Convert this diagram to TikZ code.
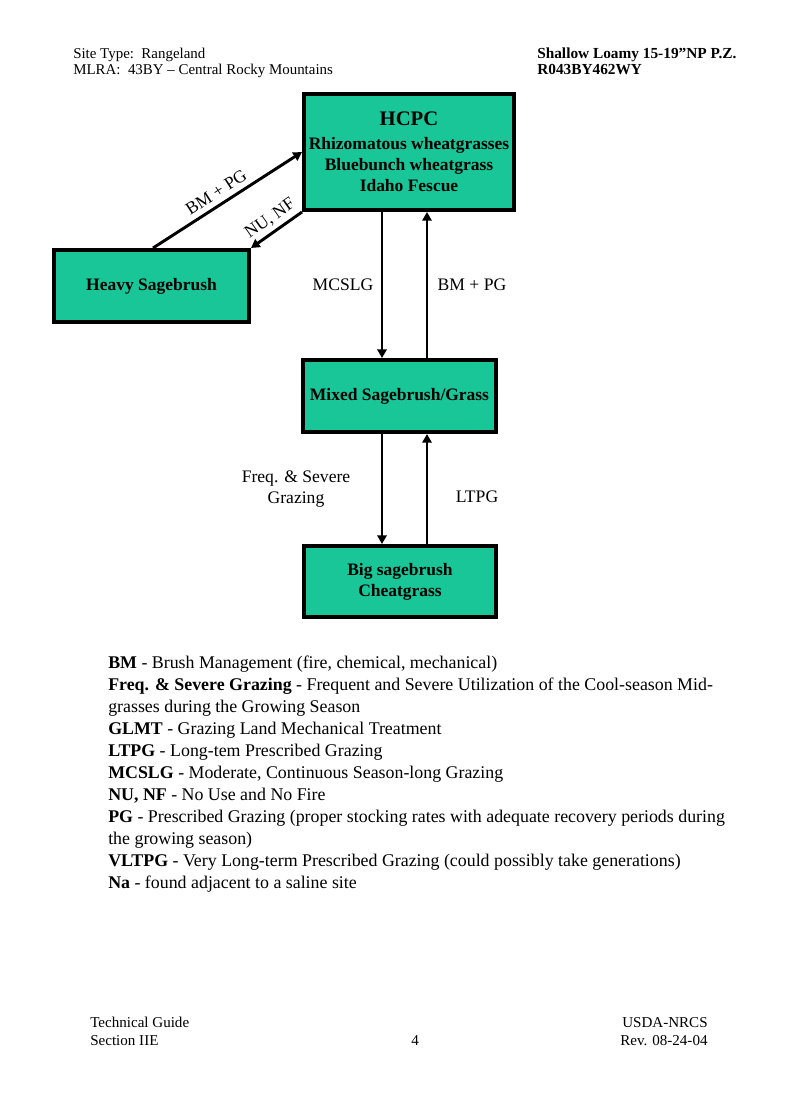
\documentclass[tikz,border=0pt]{standalone}
\usepackage{fontspec}
\setmainfont{Liberation Serif}
\usetikzlibrary{arrows.meta,calc}
\definecolor{boxgreen}{RGB}{24,198,152}
\def\u{0.75pt}
\tikzset{
  statebox/.style={draw=black, line width=3pt, fill=boxgreen, align=center,
    font=\bfseries\fontsize{13.1}{15.75}\selectfont, inner sep=0pt},
  arr/.style={line width=2.2pt, -{Triangle[length=6.5pt,width=7pt]}},
  lbl/.style={font=\fontsize{13.2}{15.75}\selectfont, align=center, inner sep=1pt},
  hdr/.style={font=\fontsize{11.2}{13}\selectfont, anchor=base west, inner sep=0pt},
  hdrb/.style={font=\bfseries\fontsize{11.5}{13}\selectfont, anchor=base west, inner sep=0pt},
  ftr/.style={font=\fontsize{11.3}{13}\selectfont, anchor=base west, inner sep=0pt},
  leg/.style={font=\fontsize{13.4}{15}\selectfont, anchor=base west, inner sep=0pt}
}
\begin{document}
\begin{tikzpicture}[x=0.75pt, y=-0.75pt]
\useasboundingbox[fill=white] (0,0) rectangle (800,1108);

% header
\node[hdr] (h1) at (73,58) {Site Type:\ \ Rangeland};
\node[hdr] (h2) at (73,74) {MLRA:\ \ 43BY -- Central Rocky Mountains};
\node[hdrb] (h3) at (537,58) {Shallow Loamy 15-19”NP P.Z.};
\node[hdrb] (h4) at (537,74) {R043BY462WY};

% boxes
\node[statebox, minimum width={210*\u}, minimum height={116*\u}] (hcpc) at (409,152)
  {{\fontsize{15.5}{17}\selectfont HCPC}\\[2pt] Rhizomatous wheatgrasses\\ Bluebunch wheatgrass\\ Idaho Fescue};
\node[statebox, minimum width={195*\u}, minimum height={72*\u}] (heavy) at (151.5,286) {Heavy Sagebrush};
\node[statebox, minimum width={193*\u}, minimum height={72*\u}] (mixed) at (399.5,396) {Mixed Sagebrush/Grass};
\node[statebox, minimum width={192*\u}, minimum height={71*\u}] (big) at (400,581.5) {Big sagebrush\\ Cheatgrass};

% connectors
\draw[arr] ([xshift=1.5*\u]heavy.north) -- node[lbl, sloped, above=3pt, pos=0.47] {BM + PG} (hcpc.west);
\draw[arr] (hcpc.south west) -- node[lbl, sloped, above=2pt, pos=0.48] {NU, NF} (heavy.north east);
\draw[arr] ([xshift=-17.5*\u]hcpc.south -| mixed.north) -- ([xshift=-17.5*\u]mixed.north);
\draw[arr] ([xshift=27.5*\u]mixed.north) -- ([xshift=27.5*\u]hcpc.south -| mixed.north);
\draw[arr] ([xshift=-17.5*\u]mixed.south) -- ([xshift=-17.5*\u]big.north -| mixed.south);
\draw[arr] ([xshift=27.5*\u]big.north -| mixed.south) -- ([xshift=27.5*\u]mixed.south);

\node[lbl] (l1) at (343,285) {MCSLG};
\node[lbl] (l2) at (472,285) {BM + PG};
\node[lbl] (l3) at (296,489) {Freq. \& Severe\\ Grazing};
\node[lbl] (l4) at (477,497) {LTPG};

% legend
\node[leg] (g1) at (108,668) {\textbf{BM} - Brush Management (fire, chemical, mechanical)};
\node[leg] (g2) at (108,690) {\textbf{Freq. \& Severe Grazing} - Frequent and Severe Utilization of the Cool-season Mid-};
\node[leg] (g3) at (108,712) {grasses during the Growing Season};
\node[leg] (g4) at (108,734) {\textbf{GLMT} - Grazing Land Mechanical Treatment};
\node[leg] (g5) at (108,756) {\textbf{LTPG} - Long-tem Prescribed Grazing};
\node[leg] (g6) at (108,778) {\textbf{MCSLG} - Moderate, Continuous Season-long Grazing};
\node[leg] (g7) at (108,800) {\textbf{NU, NF} - No Use and No Fire};
\node[leg] (g8) at (108,822) {\textbf{PG} - Prescribed Grazing (proper stocking rates with adequate recovery periods during};
\node[leg] (g9) at (108,844) {the growing season)};
\node[leg] (g10) at (108,866) {\textbf{VLTPG} - Very Long-term Prescribed Grazing (could possibly take generations)};
\node[leg] (g11) at (108,888) {\textbf{Na} - found adjacent to a saline site};

% footer
\node[ftr] (f1) at (90,1027) {Technical Guide};
\node[ftr] (f2) at (90,1045) {Section IIE};
\node[ftr] (f3) at (411,1045) {4};
\node[ftr] (f4) at (622,1027) {USDA-NRCS};
\node[ftr] (f5) at (620,1045) {Rev. 08-24-04};
\end{tikzpicture}
\end{document}
